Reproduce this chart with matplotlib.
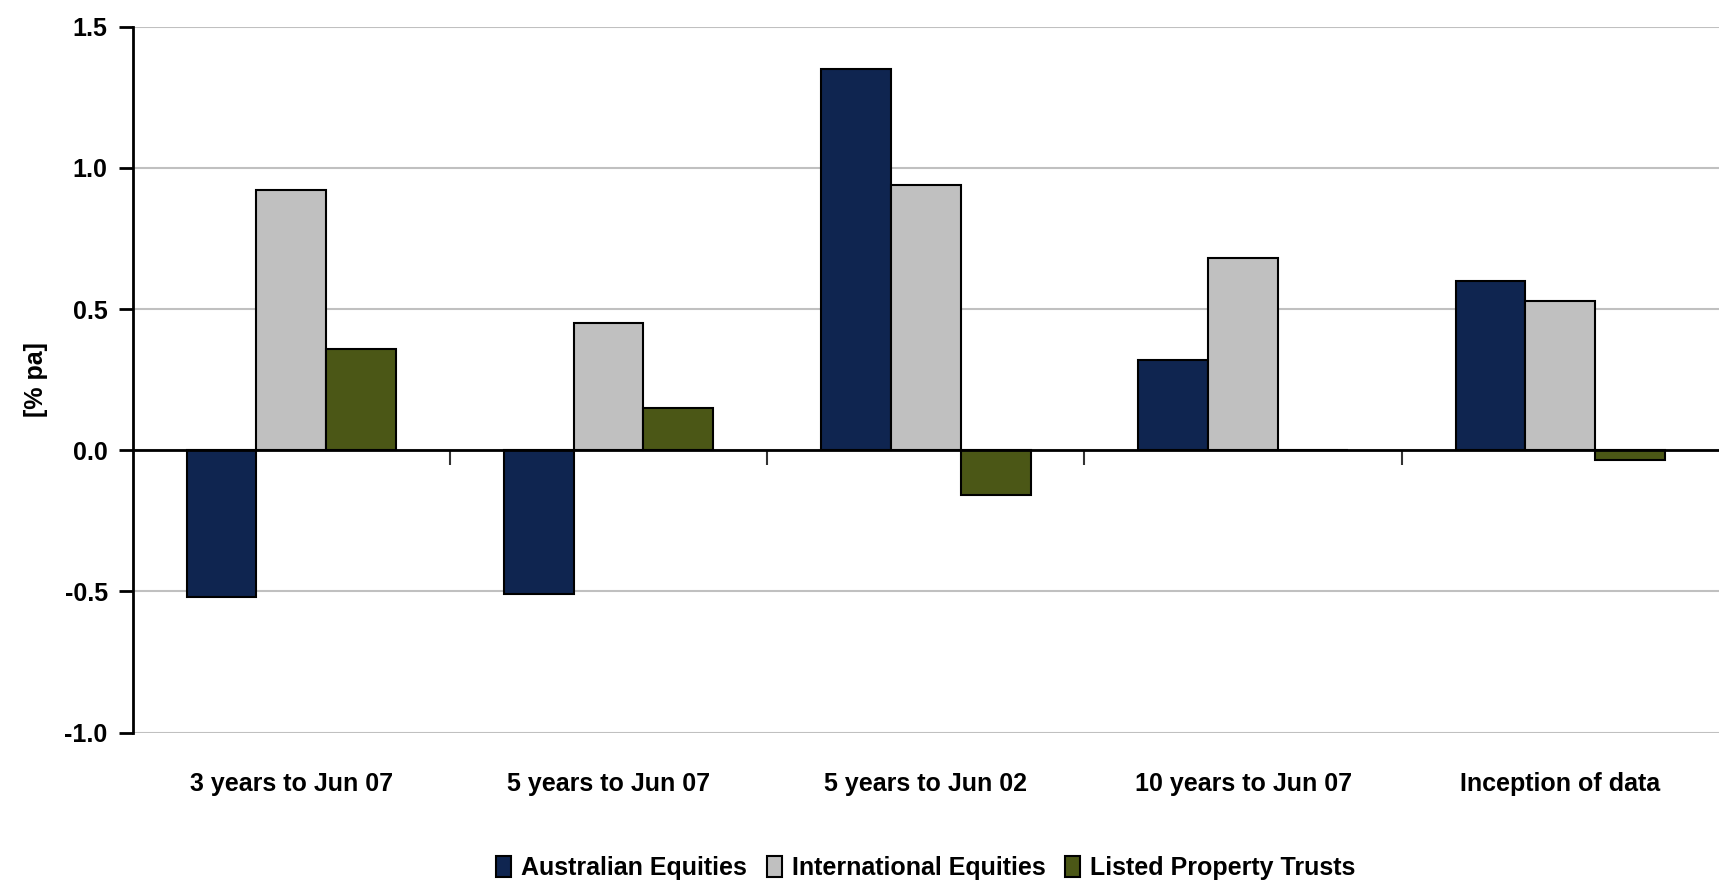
import numpy as np
import matplotlib
matplotlib.use("Agg")
import matplotlib.pyplot as plt
from matplotlib.ticker import FixedLocator

plt.rcParams['font.family'] = ['Liberation Sans Narrow', 'Liberation Sans', 'DejaVu Sans']
plt.rcParams['font.weight'] = 'bold'
plt.rcParams['axes.unicode_minus'] = False

# data
categories = ["3 years to Jun 07", "5 years to Jun 07", "5 years to Jun 02",
              "10 years to Jun 07", "Inception of data"]
aus_eq = [-0.52, -0.51, 1.35, 0.32, 0.60]
intl_eq = [0.92, 0.45, 0.94, 0.68, 0.53]
lpt = [0.36, 0.15, -0.16, 0.0, -0.035]
series_names = ["Australian Equities", "International Equities", "Listed Property Trusts"]
colors = ["#0F2550", "#C0C0C0", "#4B5716"]

fig = plt.figure(figsize=(17.19, 8.84), dpi=100)
ax = fig.add_axes([0.0772, 0.1712, 0.9228, 0.7986])

x = np.arange(len(categories))
w = 0.22
for i, (vals, name, c) in enumerate(zip([aus_eq, intl_eq, lpt], series_names, colors)):
    ax.bar(x + (i - 1) * w, vals, w, color=c, edgecolor='black', linewidth=1.5,
           label=name, zorder=3)

ax.set_xlim(-0.5, len(categories) - 0.5)
ax.set_ylim(-1.0, 1.5)
ax.set_yticks(np.arange(-1.0, 1.51, 0.5))
ax.set_yticklabels(["%.1f" % v for v in np.arange(-1.0, 1.51, 0.5)], fontsize=18, fontweight='bold')
ax.yaxis.grid(True, color='#C0C0C0', linewidth=1.5, zorder=0)
ax.tick_params(axis='y', length=10, width=2, pad=8)
ax.set_ylabel("[% pa]", fontsize=18, fontweight='bold', labelpad=12)

# bottom spine acts as the zero line, with category separators as minor ticks
ax.spines['top'].set_visible(False)
ax.spines['right'].set_visible(False)
ax.spines['left'].set_linewidth(2)
ax.spines['bottom'].set_position(('data', 0))
ax.spines['bottom'].set_linewidth(2)
ax.spines['bottom'].set_zorder(4)
ax.set_xticks([])
ax.xaxis.set_minor_locator(FixedLocator(np.arange(0.5, len(categories) - 1, 1.0)))
ax.tick_params(axis='x', which='minor', length=11, width=1.5, color='#333333')

sec = ax.secondary_xaxis(0.0)
sec.set_xticks(x)
sec.set_xticklabels(categories, fontsize=18, fontweight='bold')
sec.tick_params(length=0, pad=28)
sec.spines['bottom'].set_visible(False)

fig.legend(loc='center', bbox_to_anchor=(0.5386, 0.018), ncol=3, frameon=False,
           fontsize=18, handlelength=0.6, handleheight=0.9, handletextpad=0.4,
           columnspacing=0.8, borderpad=0)

fig.savefig("out.png", dpi=100)
